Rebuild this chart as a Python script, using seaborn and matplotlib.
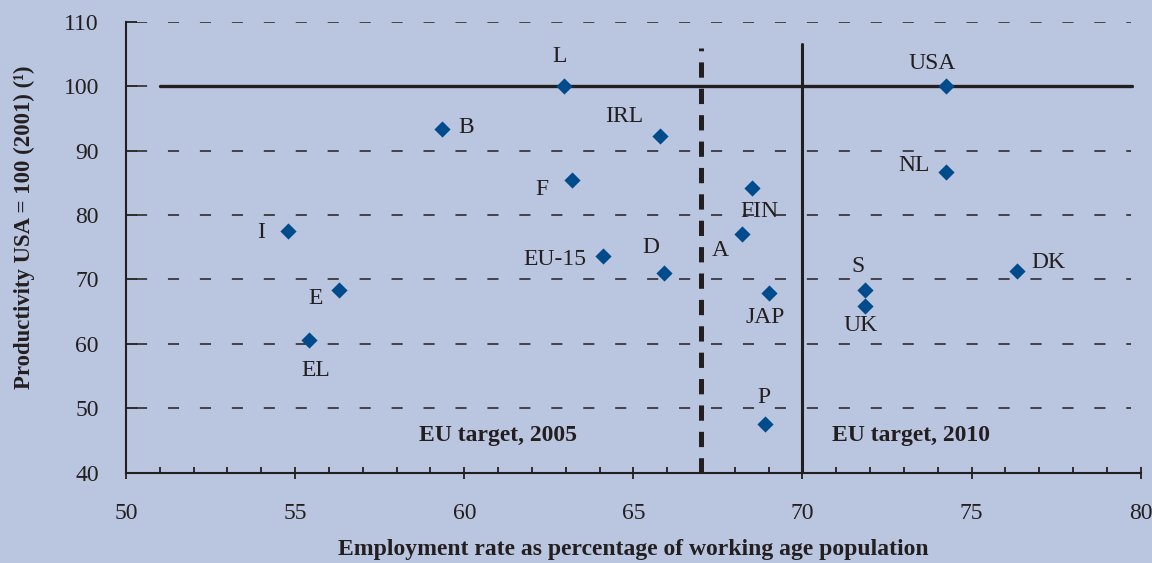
import matplotlib
matplotlib.use("Agg")
import matplotlib.pyplot as plt
import seaborn as sns
import pandas as pd
import numpy as np

# ---- data ----
countries = ["L", "USA", "B", "IRL", "F", "NL", "FIN", "A", "I", "EU-15",
             "D", "DK", "S", "UK", "JAP", "E", "EL", "P"]
employment = [62.95, 74.25, 59.35, 65.8, 63.2, 74.25, 68.5, 68.2, 54.8, 64.1,
              65.9, 76.35, 71.85, 71.85, 69.0, 56.3, 55.4, 68.9]
productivity = [100.0, 100.0, 93.3, 92.3, 85.4, 86.7, 84.2, 77.0, 77.5, 73.6,
                71.0, 71.3, 68.4, 65.9, 67.9, 68.4, 60.6, 47.6]
target_2005 = 67
target_2010 = 70
usa_level = 100
x_ticks = [50, 55, 60, 65, 70, 75, 80]
y_ticks = [40, 50, 60, 70, 80, 90, 100, 110]

df = pd.DataFrame({"country": countries, "employment": employment,
                   "productivity": productivity})

# label offsets in pixels (layout only)
offsets = {"L": (-4, 30), "USA": (-14, 23), "B": (24, 2), "IRL": (-36, 19),
           "F": (-31, -9), "NL": (-32, 6), "FIN": (8, -24), "A": (-21, -16),
           "I": (-27, -1), "EU-15": (-48, -3), "D": (-13, 25), "DK": (31, 9),
           "S": (-7, 23), "UK": (-5, -20), "JAP": (-3, -25), "E": (-24, -9),
           "EL": (7, -31), "P": (-1, 26)}

BG = "#BAC5DF"
INK = "#231F20"
MARK = "#004B8C"

sns.set_theme(style="white")
plt.rcParams["font.family"] = ["Liberation Serif", "DejaVu Serif"]
plt.rcParams["lines.scale_dashes"] = False

fig = plt.figure(figsize=(11.52, 5.63), dpi=100, facecolor=BG)
ax = fig.add_axes([0.1094, 0.1604, 0.8808, 0.8011])
ax.set_facecolor(BG)

# grid lines (dashed)
for yv in y_ticks[1:]:
    if yv == usa_level:
        continue
    ax.plot([50.3, 79.7], [yv, yv], color=INK, lw=1.1, dashes=(8, 15),
            dash_capstyle="butt", zorder=1)
ax.plot([50.3, 51], [usa_level, usa_level], color=INK, lw=1.1, dashes=(8, 15), zorder=1)
# USA = 100 line
ax.plot([51, 79.75], [usa_level, usa_level], color=INK, lw=2.4, zorder=2)
# target lines
ax.plot([target_2005, target_2005], [40, 105.9], color=INK, lw=3.6,
        dashes=(11, 8), dash_capstyle="butt", zorder=2)
ax.plot([target_2010, target_2010], [40, 106.6], color=INK, lw=2.2, zorder=2)

sns.scatterplot(data=df, x="employment", y="productivity", marker="D",
                s=68, color=MARK, linewidth=0, ax=ax, zorder=5)

for c, xv, yv in zip(countries, employment, productivity):
    dx, dy = offsets[c]
    ax.annotate(c, (xv, yv), xytext=(dx, dy), textcoords="offset pixels",
                ha="center", va="center", fontsize=17, color=INK, zorder=6)

ax.text(61.0, 45.7, "EU target, 2005", ha="center", va="center",
        fontsize=17, fontweight="bold", color=INK)
ax.text(73.2, 45.7, "EU target, 2010", ha="center", va="center",
        fontsize=17, fontweight="bold", color=INK)

ax.set_xlim(50, 80)
ax.set_ylim(40, 110)
ax.set_xticks(x_ticks)
ax.set_xticks(np.arange(50, 81, 1), minor=True)
ax.set_yticks(y_ticks)
ax.set_xticklabels([str(v) for v in x_ticks])
ax.set_yticklabels([str(v) for v in y_ticks])

ax.tick_params(axis="x", which="major", direction="inout", length=9, width=1.3,
               color=INK, labelsize=17, labelcolor=INK, pad=17.3, bottom=True)
ax.tick_params(axis="x", which="minor", direction="in", length=4, width=1.3,
               color=INK, bottom=True)
ax.tick_params(axis="y", which="major", direction="in", length=8, width=1.3,
               color=INK, labelsize=17, labelcolor=INK, pad=19.5, left=True)

for side in ["top", "right"]:
    ax.spines[side].set_visible(False)
for side in ["left", "bottom"]:
    ax.spines[side].set_color(INK)
    ax.spines[side].set_linewidth(1.5)

ax.set_xlabel("Employment rate as percentage of working age population",
              fontsize=17, fontweight="bold", color=INK, labelpad=11)
ax.set_ylabel("Productivity USA = 100 (2001) (\u00b9)", fontsize=16.4,
              fontweight="bold", color=INK)
ax.yaxis.set_label_coords(-0.090, 0.545)

fig.savefig("out.png", dpi=100, facecolor=BG)
